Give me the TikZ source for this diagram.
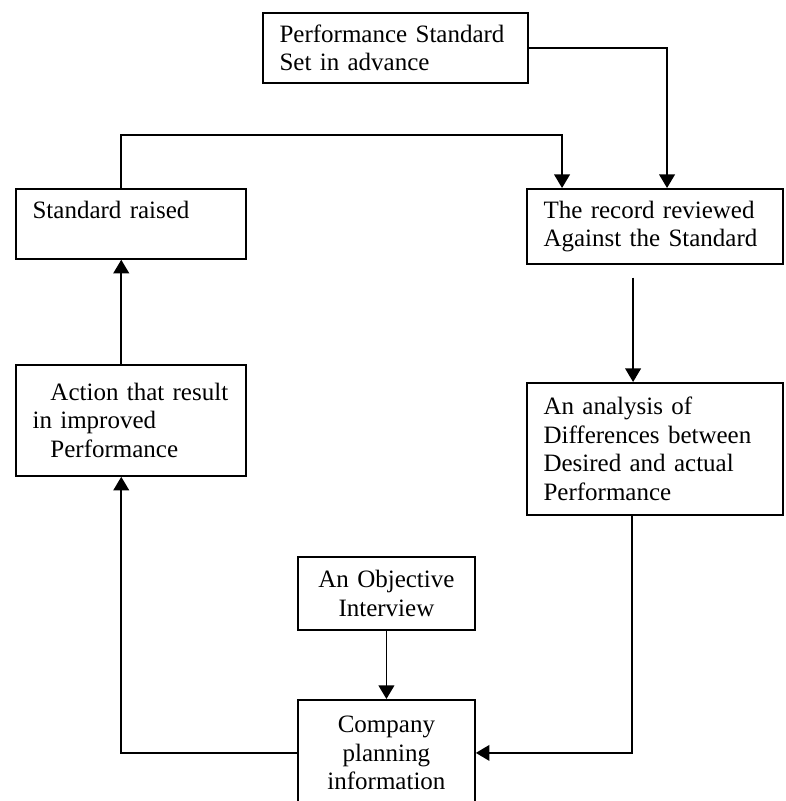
\documentclass[tikz,border=0pt]{standalone}
\usepackage{fontspec}
\setmainfont{Liberation Serif}
\usetikzlibrary{arrows.meta}

\begin{document}
\begin{tikzpicture}[x=0.48pt, y=-0.48pt,
		box/.style={draw, line width=0.85pt, anchor=north west, align=left, inner xsep=8pt, inner ysep=3pt, font=\fontsize{12}{13.7}\selectfont},
		cbox/.style={box, align=center},
		arr/.style={line width=0.85pt, -{Triangle[width=7.5pt,length=6.5pt]}}]
		\useasboundingbox (0,0) rectangle (785,801);
		\clip (0,0) rectangle (785,801);
		
		% riquadri
		\node[box, minimum width=127.2pt, minimum height=33.6pt, text width=111.2pt] (perf) at (262,12) {Performance Standard\\Set in advance};
		\node[box, minimum width=122.9pt, minimum height=36pt, text width=106.9pt] (review) at (526,188) {The record reviewed\\Against the Standard};
		\node[box, minimum width=122.9pt, minimum height=63.4pt, text width=106.9pt] (analysis) at (526,382) {An analysis of\\Differences between\\Desired and actual\\Performance};
		\node[box, minimum width=110.4pt, minimum height=33.6pt, text width=94.4pt] (raised) at (15,188) {Standard raised\\~};
		\node[box, minimum width=110.4pt, minimum height=53.3pt, text width=94.4pt] (action) at (15,364) {\hspace*{8.6pt}Action that result\\in improved\\\hspace*{8.6pt}Performance};
		\node[cbox, minimum width=85pt, minimum height=35pt, text width=69pt] (objective) at (297,556) {An Objective\\Interview};
		\node[cbox, minimum width=85pt, minimum height=50.9pt, text width=69pt] (company) at (297,699) {Company\\planning\\information};
		
		% frecce
		\draw[arr] (perf.east) -| ([xshift=67.7pt]review.north west);
		\draw[arr] ([xshift=51pt]raised.north west) -- ++(0,-53) -| ([xshift=17.3pt]review.north west);
		\draw[arr] ([xshift=51.4pt,yshift=-6.2pt]review.south west) -- ([xshift=51.4pt]analysis.north west);
		\draw[arr] ([xshift=50.9pt]analysis.south west) |- (company.east);
		\draw[arr] (objective.south) -- (company.north);
		\draw[arr] (company.west) -| ([xshift=51pt]action.south west);
		\draw[arr] ([xshift=51pt]action.north west) -- ([xshift=51pt]raised.south west);
	\end{tikzpicture}
\end{document}
